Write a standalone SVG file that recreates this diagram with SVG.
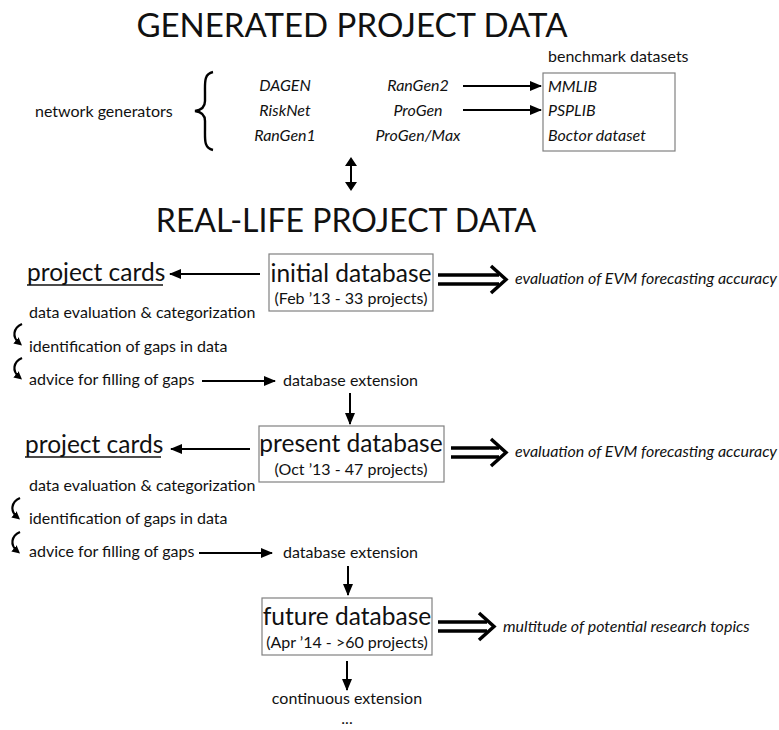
<svg xmlns="http://www.w3.org/2000/svg" width="779" height="730" viewBox="0 0 779 730">
<defs>
<marker id="ah" markerUnits="userSpaceOnUse" markerWidth="12" markerHeight="10" refX="11" refY="5" orient="auto">
<path d="M0,0 L12,5 L0,10 z" fill="#000"/>
</marker>
<marker id="ahs" markerUnits="userSpaceOnUse" markerWidth="8" markerHeight="8" refX="4" refY="4" orient="auto">
<path d="M0,0 L8,4 L0,8 z" fill="#000"/>
</marker>
<style>
text{font-family:Lato,"Liberation Sans",sans-serif;fill:#111;}
.t{font-size:33px;}
.t2{font-size:32px;}
.n{font-size:16px;}
.i{font-size:16px;font-style:italic;}
.big{font-size:24.5px;}
.sub{font-size:16px;}
.box{fill:none;stroke:#808080;stroke-width:1.2;}
.ar{fill:none;stroke:#000;stroke-width:2;marker-end:url(#ah);}
.cv{fill:none;stroke:#000;stroke-width:2.2;marker-end:url(#ahs);}
.dbl{fill:none;stroke:#000;stroke-width:3.5;}
.ul{stroke:#111;stroke-width:1.5;}
</style>
</defs>
<g id="title-generated"><text class="t" x="352" y="37" text-anchor="middle">GENERATED PROJECT DATA</text></g>
<g id="network-generators">
<text class="n" x="35" y="117">network generators</text>
<path d="M213,72 C204,74 205,82 205,92 L205,101 C205,107 202,110 195,111 C202,112 205,115 205,121 L205,130 C205,140 204,148 213,150" fill="none" stroke="#000" stroke-width="2.4"/>
</g>
<g id="generators-col1">
<text class="i" x="285" y="91" text-anchor="middle">DAGEN</text>
<text class="i" x="285" y="116" text-anchor="middle">RiskNet</text>
<text class="i" x="285" y="141" text-anchor="middle">RanGen1</text>
</g>
<g id="generators-col2">
<text class="i" x="418" y="91" text-anchor="middle">RanGen2</text>
<text class="i" x="418" y="116" text-anchor="middle">ProGen</text>
<text class="i" x="418" y="141" text-anchor="middle">ProGen/Max</text>
</g>
<g id="benchmark-datasets">
<text class="n" x="548" y="62">benchmark datasets</text>
<rect class="box" x="543" y="73" width="132" height="78"/>
<text class="i" x="548" y="92">MMLIB</text>
<text class="i" x="548" y="116">PSPLIB</text>
<text class="i" x="548" y="141">Boctor dataset</text>
</g>
<g id="title-reallife"><text class="t2" x="346" y="232" text-anchor="middle">REAL-LIFE PROJECT DATA</text></g>
<g id="project-cards-1">
<text class="big" x="27" y="281">project cards</text>
<line class="ul" x1="27" y1="285" x2="163" y2="285"/>
</g>
<g id="initial-database">
<rect class="box" x="269" y="254" width="164" height="57"/>
<text class="big" x="351" y="282" text-anchor="middle">initial database</text>
<text class="sub" x="351" y="304" text-anchor="middle">(Feb ’13 - 33 projects)</text>
</g>
<g id="evm-1"><text class="i" x="515" y="284">evaluation of EVM forecasting accuracy</text></g>
<g id="steps-1">
<text class="n" x="29" y="318">data evaluation &amp; categorization</text>
<text class="n" x="29" y="352">identification of gaps in data</text>
<text class="n" x="29" y="385">advice for filling of gaps</text>
</g>
<g id="extension-1"><text class="n" x="283" y="386">database extension</text></g>
<g id="project-cards-2">
<text class="big" x="25" y="453">project cards</text>
<line class="ul" x1="25" y1="457" x2="161" y2="457"/>
</g>
<g id="present-database">
<rect class="box" x="259" y="426" width="185" height="56"/>
<text class="big" x="351" y="452" text-anchor="middle">present database</text>
<text class="sub" x="351" y="475" text-anchor="middle">(Oct ’13 - 47 projects)</text>
</g>
<g id="evm-2"><text class="i" x="515" y="457">evaluation of EVM forecasting accuracy</text></g>
<g id="steps-2">
<text class="n" x="29" y="491">data evaluation &amp; categorization</text>
<text class="n" x="29" y="524">identification of gaps in data</text>
<text class="n" x="29" y="557">advice for filling of gaps</text>
</g>
<g id="extension-2"><text class="n" x="283" y="558">database extension</text></g>
<g id="future-database">
<rect class="box" x="262" y="598" width="170" height="57"/>
<text class="big" x="347" y="625" text-anchor="middle">future database</text>
<text class="sub" x="347" y="648" text-anchor="middle">(Apr ’14 - &gt;60 projects)</text>
</g>
<g id="research-topics"><text class="i" x="503" y="632">multitude of potential research topics</text></g>
<g id="continuous-extension">
<text class="n" x="347" y="704" text-anchor="middle">continuous extension</text>
<text class="n" x="347" y="724" text-anchor="middle">...</text>
</g>
<g id="connectors">
<line class="ar" x1="463" y1="86" x2="541" y2="86"/>
<line class="ar" x1="463" y1="110" x2="541" y2="110"/>
<line x1="351" y1="164" x2="351" y2="184" stroke="#000" stroke-width="2"/>
<path d="M345,166 L351,157 L357,166 z M345,182 L351,191 L357,182 z" fill="#000"/>
<line class="ar" x1="260" y1="274" x2="170" y2="274"/>
<path class="dbl" d="M438,275 H499 M438,284 H499"/>
<path class="dbl" d="M491,266 L506,279.5 L491,293"/>
<path class="cv" d="M22,324 C13,328 12,337 19,343"/>
<path class="cv" d="M22,358 C13,362 12,371 19,377"/>
<line class="ar" x1="202" y1="381" x2="275" y2="381"/>
<line class="ar" x1="350" y1="393" x2="350" y2="424"/>
<line class="ar" x1="250" y1="449" x2="171" y2="449"/>
<path class="dbl" d="M451,448 H499 M451,457 H499"/>
<path class="dbl" d="M491,439 L506,452.5 L491,466"/>
<path class="cv" d="M20,498 C11,502 10,511 17,517"/>
<path class="cv" d="M20,532 C11,536 10,545 17,551"/>
<line class="ar" x1="199" y1="553" x2="272" y2="553"/>
<line class="ar" x1="348" y1="566" x2="348" y2="595"/>
<path class="dbl" d="M438,622 H487 M438,631 H487"/>
<path class="dbl" d="M479,613 L494,626.5 L479,640"/>
<line class="ar" x1="347" y1="661" x2="347" y2="690"/>
</g>
</svg>
